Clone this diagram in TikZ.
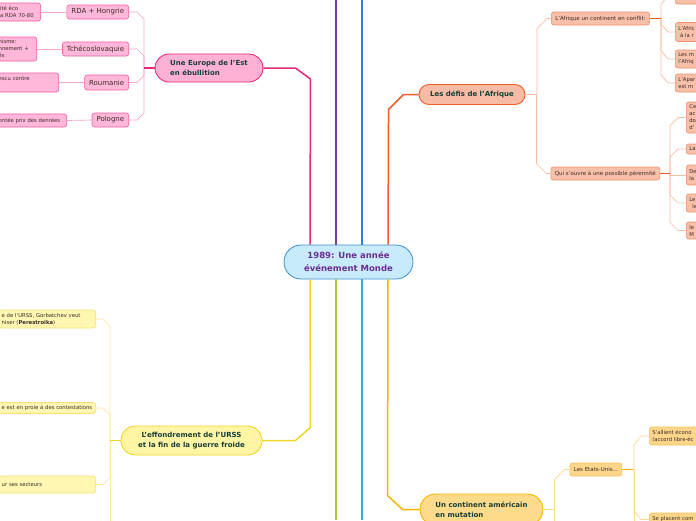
\documentclass[tikz,border=0pt]{standalone}
\usepackage{fontspec}
\setmainfont{DejaVu Sans}
\usetikzlibrary{calc}
\definecolor{ctrfill}{HTML}{C7EBFA}
\definecolor{ctrdraw}{HTML}{3B8FD0}
\definecolor{ctrtext}{HTML}{6C2E90}
\definecolor{maintext}{HTML}{173F36}
\definecolor{subtext}{HTML}{3A2A28}
\definecolor{pkmain}{HTML}{E8297A}
\definecolor{pkfill}{HTML}{FFB1D5}
\definecolor{pksubfill}{HTML}{FFB8DA}
\definecolor{pksubdraw}{HTML}{EF5FA0}
\definecolor{pkthin}{HTML}{F7A6CB}
\definecolor{ormain}{HTML}{EF5B2B}
\definecolor{orfill}{HTML}{F8BCA6}
\definecolor{orsubfill}{HTML}{F9C0A9}
\definecolor{orsubdraw}{HTML}{F28D6A}
\definecolor{orthin}{HTML}{F9BBA3}
\definecolor{yemain}{HTML}{EFD52A}
\definecolor{yefill}{HTML}{FFF5A5}
\definecolor{yesubfill}{HTML}{FFF7B2}
\definecolor{yesubdraw}{HTML}{F6E070}
\definecolor{yethin}{HTML}{F8E8A0}
\definecolor{ammain}{HTML}{F5B700}
\definecolor{amfill}{HTML}{FEDB8B}
\definecolor{amsubfill}{HTML}{FDD68A}
\definecolor{amsubdraw}{HTML}{F6C05A}
\definecolor{amthin}{HTML}{FBD890}
\definecolor{lnpurple}{HTML}{7B3F98}
\definecolor{lnblue}{HTML}{2D7FE6}
\definecolor{lngreen}{HTML}{A6C63A}
\definecolor{lncyan}{HTML}{29B3EA}
\begin{document}
\begin{tikzpicture}[x=1pt,y=-1pt,
  mainnode/.style={draw, line width=0.9pt, inner sep=0pt, text=maintext,
    font=\fontsize{7}{10}\selectfont\bfseries},
  subnode/.style={draw, line width=0.6pt, rounded corners=2.5pt, inner xsep=4.5pt,
    inner ysep=0pt, minimum height=14pt, text=subtext, font=\fontsize{7}{9}\selectfont},
  leafnode/.style={draw, line width=0.6pt, rounded corners=2.5pt, inner xsep=3pt,
    inner ysep=0pt, text=subtext, align=left, font=\fontsize{5.3}{7}\selectfont},
  midnode/.style={draw, line width=0.6pt, rounded corners=2.5pt, inner xsep=4pt,
    inner ysep=0pt, minimum height=13pt, text=subtext, font=\fontsize{5.5}{7}\selectfont},
  trunk/.style={line width=1.5pt},
  thinline/.style={line width=0.7pt},
  stub/.style={line width=1.2pt},
]
\useasboundingbox (0,0) rectangle (696,520);
\clip (0,0) rectangle (696,520);

% ---------- centre ----------
\node[draw=ctrdraw, fill=ctrfill, line width=0.8pt, rounded corners=17pt,
  minimum width=129pt, minimum height=34pt, inner sep=0pt, align=center,
  text=ctrtext, font=\fontsize{8.5}{13}\selectfont\bfseries] (c) at (348.5,262)
  {1989: Une année\\événement Monde};

% ---------- main nodes ----------
\node[mainnode, draw=pkmain, fill=pkfill, rounded corners=14pt, minimum width=108pt,
  minimum height=28pt, align=left] (eu) at (209,68) {Une Europe de l'Est\\en ébullition};
\node[mainnode, draw=ormain, fill=orfill, rounded corners=10pt, minimum width=106pt,
  minimum height=20pt] (af) at (472,94.5) {Les défis de l'Afrique};
\node[mainnode, draw=yemain, fill=yefill, rounded corners=14.5pt, minimum width=141pt,
  minimum height=29pt, align=center] (ef) at (191.5,440.5)
  {L'effondrement de l'URSS\\ et la fin de la guerre froide};
\node[mainnode, draw=ammain, fill=amfill, rounded corners=15.5pt, minimum width=123pt,
  minimum height=31pt, align=left] (am) at (481.5,509.5)
  {Un continent américain\\en mutation};

% ---------- trunks ----------
\coordinate (ptop) at (336,0);
\coordinate (btop) at (362,0);
\coordinate (gbot) at (336,520);
\coordinate (cbot) at (362,520);
\draw[trunk, lnpurple] (ptop) -- (ptop |- c.north);
\draw[trunk, lnblue] (btop) -- (btop |- c.north);
\draw[trunk, lngreen] (gbot) -- (gbot |- c.south);
\draw[trunk, lncyan] (cbot) -- (cbot |- c.south);
\draw[trunk, pkmain] (eu.east) -- ++(32,0) -- ++(15,11) -- (310,0 |- c.north);
\draw[trunk, ormain] (af.west) -- ++(-15,0) -- ++(-15,15) -- (388,0 |- c.north);
\draw[trunk, yemain] (ef.east) -- ++(33,0) -- ++(15,-13) -- (310,0 |- c.south);
\draw[trunk, ammain] (am.west) -- ++(-17,0) -- ++(-15,-14) -- (388,0 |- c.south);

% ---------- pink branch ----------
\begin{scope}[every node/.append style={draw=pksubdraw, fill=pksubfill}]
\node[subnode, anchor=east] (rda) at (129,12) {RDA + Hongrie};
\node[subnode, anchor=east] (tch) at (129,49) {Tchécoslovaquie};
\node[subnode, anchor=east, minimum height=15pt] (rou) at (129,82.5) {Roumanie};
\node[subnode, anchor=east] (pol) at (129,120) {Pologne};
\node[leafnode, anchor=east, text width=39pt, minimum height=18pt] (l1) at (41,12)
  {\mbox{lité éco}\\\mbox{la RDA 70-80}};
\node[leafnode, anchor=east, text width=35pt, minimum height=24pt] (l2) at (37,49)
  {\mbox{nisme:}\\\mbox{nnement +}\\\mbox{és}};
\node[leafnode, anchor=east, text width=57pt, minimum height=19pt] (l3) at (59,82.5)
  {\mbox{escu contre}\\\mbox{}};
\node[leafnode, anchor=east, text width=65pt, minimum height=13pt] (l4) at (67,120.5)
  {\mbox{ontée prix des denrées}};
\end{scope}
\begin{scope}[thinline, pkthin]
\draw (rda.east) -- ++(8,0) -- ++(7,7) |- (eu.west);
\draw (tch.east) -- ++(8,0) -- ++(7,7) |- (eu.west);
\draw (rou.east) -- ++(8,0) -- ++(7,-7) |- (eu.west);
\draw (pol.east) -- ++(8,0) -- ++(7,-7) |- (eu.west);
\draw (l1.east) -- (rda.west);
\draw (l2.east) -- (tch.west);
\draw (l3.east) -- (rou.west);
\draw (l4.east) -- (pol.west);
\end{scope}
\draw[stub, pkmain] (eu.west) -- ++(-11,0);

% ---------- orange branch ----------
\begin{scope}[every node/.append style={draw=orsubdraw, fill=orsubfill}]
\node[midnode, anchor=west] (a1) at (551,18.5) {L'Afrique un continent en conflit:};
\node[midnode, anchor=west] (a2) at (550.5,173.5) {Qui s'ouvre à une possible pérennité};
\node[leafnode, anchor=west, text width=36pt, minimum height=16pt] (b1) at (675,-4) {};
\node[leafnode, anchor=west, text width=36pt, minimum height=19pt] (b2) at (675,32)
  {\mbox{L'Afric}\\\mbox{\ à la r}};
\node[leafnode, anchor=west, text width=36pt, minimum height=18pt] (b3) at (675,59)
  {\mbox{Les m}\\\mbox{l'Afriq}};
\node[leafnode, anchor=west, text width=36pt, minimum height=18pt] (b4) at (675,83)
  {\mbox{L'Apar}\\\mbox{est m}};
\node[leafnode, anchor=west, text width=30pt, minimum height=31pt] (q1) at (686,117.5)
  {Ce\\ac\\do\\d'};
\node[leafnode, anchor=west, text width=30pt, minimum height=10pt] (q2) at (686,149) {La};
\node[leafnode, anchor=west, text width=30pt, minimum height=20pt] (q3) at (686,175) {De\\la};
\node[leafnode, anchor=west, text width=30pt, minimum height=18pt] (q4) at (686,203)
  {Le\\\hspace*{3pt}le};
\node[leafnode, anchor=west, text width=30pt, minimum height=17pt] (q5) at (686,230.5) {le\\M};
\end{scope}
\begin{scope}[thinline, orthin]
\draw (a1.west) -- ++(-4,0) -- ++(-10,10) |- (af.east);
\draw (a2.west) -- ++(-4,0) -- ++(-10,-10) |- (af.east);
\draw (b1.west) -- ++(-7,0) -- ++(-7,8) |- (a1.east);
\draw (b2.west) -- ++(-7,0) -- ++(-7,-8) |- (a1.east);
\draw (b3.west) -- ++(-7,0) -- ++(-7,-8) |- (a1.east);
\draw (b4.west) -- ++(-7,0) -- ++(-7,-8) |- (a1.east);
\draw (q1.west) -- ++(-8,0) -- ++(-8,8) |- (a2.east);
\draw (q2.west) -- ++(-8,0) -- ++(-8,8) |- (a2.east);
\draw (q3.west) -- ++(-16,0) |- (a2.east);
\draw (q4.west) -- ++(-8,0) -- ++(-8,-8) |- (a2.east);
\draw (q5.west) -- ++(-8,0) -- ++(-8,-8) |- (a2.east);
\end{scope}
\draw[stub, ormain] (a1.east) -- ++(11,0);
\draw[stub, ormain] (a2.east) -- ++(10,0);

% ---------- yellow branch ----------
\begin{scope}[every node/.append style={draw=yesubdraw, fill=yesubfill}]
\node[leafnode, anchor=east, text width=91pt, minimum height=18pt] (y1) at (96,319)
  {\mbox{e de l'URSS, Gorbatchev veut}\\\mbox{niser (\textbf{Perestroika})}};
\node[leafnode, anchor=east, text width=91pt, minimum height=11pt] (y2) at (96,408)
  {\mbox{e est en proie à des contestations}};
\node[leafnode, anchor=east, text width=91pt, minimum height=17pt] (y3) at (96,484.5)
  {\mbox{ur ses secteurs}};
\end{scope}
\coordinate (ybot) at (110,525);
\begin{scope}[thinline, yethin]
\draw (y1.east) -- ++(7,0) -- ++(7,7) |- (ef.west);
\draw (y2.east) -- ++(7,0) -- ++(7,7) |- (ef.west);
\draw (y3.east) -- ++(7,0) -- ++(7,-7) |- (ef.west);
\draw (ybot) |- (ef.west);
\end{scope}
\draw[stub, yemain] (ef.west) -- ++(-11,0);

% ---------- amber branch ----------
\begin{scope}[every node/.append style={draw=amsubdraw, fill=amsubfill}]
\node[midnode, anchor=west] (us) at (569.5,469.5) {Les Etats-Unis...};
\node[leafnode, anchor=west, text width=50pt, minimum height=18pt] (s1) at (649,436)
  {\mbox{S'allient écono}\\\mbox{(accord libre-éc}};
\node[leafnode, anchor=west, text width=50pt, minimum height=13pt] (s2) at (649,519.5)
  {\mbox{Se placent com}};
\end{scope}
\coordinate (abot) at (554,525);
\coordinate (ubot) at (634,525);
\begin{scope}[thinline, amthin]
\draw (us.west) -- ++(-5,0) -- ++(-10,10) |- (am.east);
\draw (abot) |- (am.east);
\draw (s1.west) -- ++(-8,0) -- ++(-7,9) |- (us.east);
\draw (s2.west) -- ++(-8,0) -- ++(-7,-9) |- (us.east);
\draw (ubot) |- (us.east);
\end{scope}
\draw[stub, ammain] (us.east) -- ++(11,0);
\end{tikzpicture}
\end{document}
